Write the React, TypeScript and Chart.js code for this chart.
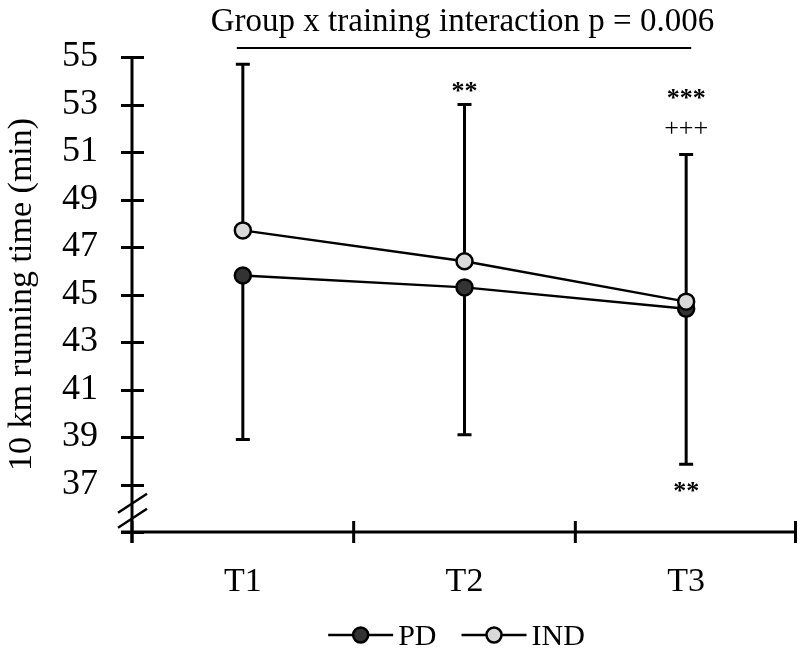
import React, { useEffect, useRef } from 'react';
import { Chart, registerables } from 'chart.js';
Chart.register(...registerables);

const categories = ['T1', 'T2', 'T3'];
const pdMeans = [45.8, 45.3, 44.4];
const pdLower = [38.9, 39.1, 37.85];
const indMeans = [47.7, 46.4, 44.7];
const indUpper = [54.7, 53.0, 50.9];
const yTickValues = [35, 37, 39, 41, 43, 45, 47, 49, 51, 53, 55];
const chartTitle = 'Group x training interaction p = 0.006';
const yTitle = '10 km running time (min)';
const legendLabels = ['PD', 'IND'];
const annotationCats = [1, 2, 2, 2];
const annotationValues = [53.25, 52.95, 51.67, 36.4];
const annotationTexts = ['**', '***', '+++', '**'];

const SERIF = '"Liberation Serif", "Times New Roman", serif';
const PD_FILL = '#333333';
const IND_FILL = '#d9d9d9';

const customPlugin = {
  id: 'customDraw',
  beforeDatasetsDraw(chart: any) {
    const { ctx, chartArea, scales } = chart;
    const x = scales.x;
    const y = scales.y;
    ctx.save();
    ctx.strokeStyle = '#000';
    ctx.lineWidth = 3;
    ctx.lineCap = 'butt';
    // axes
    ctx.beginPath();
    ctx.moveTo(chartArea.left, chartArea.top - 1);
    ctx.lineTo(chartArea.left, chartArea.bottom + 11);
    ctx.moveTo(chartArea.left - 11, chartArea.bottom);
    ctx.lineTo(chartArea.right, chartArea.bottom);
    ctx.stroke();
    // y ticks (crossing)
    ctx.beginPath();
    yTickValues.forEach((v) => {
      const py = Math.round(y.getPixelForValue(v)) + 0.5;
      ctx.moveTo(chartArea.left - 11, py);
      ctx.lineTo(chartArea.left + 12, py);
    });
    // x ticks at category boundaries
    for (let i = 0; i <= categories.length; i++) {
      let px = x.getPixelForValue(i - 0.5);
      if (i === categories.length) px -= 1.5;
      ctx.moveTo(px, chartArea.bottom - 11);
      ctx.lineTo(px, chartArea.bottom + 11);
    }
    ctx.stroke();
    // axis break marks
    const bx = chartArea.left;
    const by = (y.getPixelForValue(37) + chartArea.bottom) / 2 + 5.5;
    ctx.lineWidth = 2.5;
    ctx.beginPath();
    ctx.moveTo(bx - 14, by - 1);
    ctx.lineTo(bx + 15, by - 20);
    ctx.moveTo(bx - 14, by + 14);
    ctx.lineTo(bx + 15, by - 5);
    ctx.stroke();
    // error bars
    ctx.lineWidth = 3;
    const cap = 7;
    categories.forEach((_, i) => {
      const px = x.getPixelForValue(i);
      const pTop = y.getPixelForValue(indUpper[i]);
      const pIndMean = y.getPixelForValue(indMeans[i]);
      const pBot = y.getPixelForValue(pdLower[i]);
      const pPdMean = y.getPixelForValue(pdMeans[i]);
      ctx.beginPath();
      ctx.moveTo(px, pIndMean);
      ctx.lineTo(px, pTop);
      ctx.moveTo(px - cap, pTop);
      ctx.lineTo(px + cap, pTop);
      ctx.moveTo(px, pPdMean);
      ctx.lineTo(px, pBot);
      ctx.moveTo(px - cap, pBot);
      ctx.lineTo(px + cap, pBot);
      ctx.stroke();
    });
    ctx.restore();
  },
  afterDraw(chart: any) {
    const { ctx, chartArea, scales } = chart;
    const x = scales.x;
    const y = scales.y;
    ctx.save();
    ctx.fillStyle = '#000';
    ctx.strokeStyle = '#000';
    // title
    ctx.font = `33px ${SERIF}`;
    ctx.textAlign = 'center';
    ctx.textBaseline = 'alphabetic';
    const cx = (chartArea.left + chartArea.right) / 2;
    ctx.fillText(chartTitle, cx - 2, chartArea.top - 26);
    // significance line
    ctx.lineWidth = 2;
    ctx.beginPath();
    const ly = chartArea.top - 9;
    ctx.moveTo(x.getPixelForValue(0) - 6, ly);
    ctx.lineTo(x.getPixelForValue(categories.length - 1) + 5, ly);
    ctx.stroke();
    // annotations
    ctx.textAlign = 'center';
    annotationTexts.forEach((t, i) => {
      ctx.font = t.startsWith('+') ? `26px ${SERIF}` : `bold 26px ${SERIF}`;
      ctx.fillText(t, x.getPixelForValue(annotationCats[i]), y.getPixelForValue(annotationValues[i]));
    });
    // legend
    ctx.font = `30px ${SERIF}`;
    ctx.textAlign = 'left';
    ctx.textBaseline = 'middle';
    const lineLen = 65;
    const textGap = 5;
    const itemGap = 25;
    const fills = [PD_FILL, IND_FILL];
    const widths = legendLabels.map((l) => lineLen + textGap + ctx.measureText(l).width);
    const total = widths.reduce((a, b) => a + b, 0) + itemGap * (legendLabels.length - 1);
    let lx = cx - 8 - total / 2;
    const legY = 635;
    legendLabels.forEach((l, i) => {
      ctx.lineWidth = 2.5;
      ctx.beginPath();
      ctx.moveTo(lx, legY);
      ctx.lineTo(lx + lineLen, legY);
      ctx.stroke();
      ctx.beginPath();
      ctx.arc(lx + lineLen / 2, legY, 7.5, 0, Math.PI * 2);
      ctx.fillStyle = fills[i];
      ctx.fill();
      ctx.stroke();
      ctx.fillStyle = '#000';
      ctx.fillText(l, lx + lineLen + textGap, legY + 2);
      lx += widths[i] + itemGap;
    });
    ctx.restore();
  },
};

export default function App() {
  const canvasRef = useRef<HTMLCanvasElement | null>(null);
  useEffect(() => {
    document.body.style.margin = '0';
    const canvas = canvasRef.current;
    if (!canvas) return;
    const chart = new Chart(canvas, {
      type: 'line',
      data: {
        labels: categories,
        datasets: [
          {
            label: legendLabels[1],
            data: indMeans,
            order: 0,
            borderColor: '#000',
            borderWidth: 2.5,
            pointRadius: 8,
            pointBackgroundColor: IND_FILL,
            pointBorderColor: '#000',
            pointBorderWidth: 2.5,
            tension: 0,
            fill: false,
          },
          {
            label: legendLabels[0],
            data: pdMeans,
            order: 1,
            borderColor: '#000',
            borderWidth: 2.5,
            pointRadius: 8,
            pointBackgroundColor: PD_FILL,
            pointBorderColor: '#000',
            pointBorderWidth: 2.5,
            tension: 0,
            fill: false,
          },
        ],
      },
      options: {
        responsive: false,
        animation: false,
        devicePixelRatio: 1,
        layout: { autoPadding: false, padding: { top: 57, right: 3, left: 0, bottom: 0 } },
        plugins: {
          legend: { display: false },
          tooltip: { enabled: false },
          title: { display: false },
        },
        scales: {
          x: {
            type: 'category',
            offset: true,
            grid: { display: false, drawTicks: false },
            border: { display: false },
            ticks: { font: { family: SERIF, size: 34 }, color: '#000', padding: 30 },
            afterFit: (s: any) => {
              s.height = 119;
              s.paddingRight = 0;
              s.paddingLeft = 0;
            },
          },
          y: {
            min: 35,
            max: 55,
            grid: { display: false, drawTicks: false },
            border: { display: false },
            ticks: {
              stepSize: 2,
              font: { family: SERIF, size: 36 },
              color: '#000',
              padding: 34,
              callback: (v: any) => (v === 35 ? '' : String(v)),
            },
            title: {
              display: true,
              text: yTitle,
              font: { family: SERIF, size: 34 },
              color: '#000',
              padding: { top: 2, bottom: 0 },
            },
            afterFit: (s: any) => { s.width = 132; },
          },
        },
      },
      plugins: [customPlugin],
    } as any);
    return () => chart.destroy();
  }, []);
  return (
    <div style={{ width: 800, height: 651 }}>
      <canvas ref={canvasRef} width={800} height={651} style={{ display: 'block' }} />
    </div>
  );
}
